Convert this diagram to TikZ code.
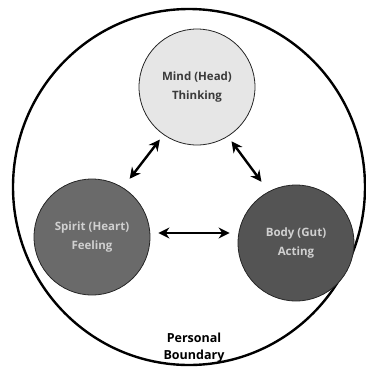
\documentclass[tikz,border=0pt]{standalone}
\usepackage{fontspec}
\setmainfont{Open Sans}
\usetikzlibrary{arrows.meta}
\definecolor{mindfill}{HTML}{E6E6E6}
\definecolor{spiritfill}{HTML}{6A6A6A}
\definecolor{bodyfill}{HTML}{545454}
\definecolor{darktext}{HTML}{3A3A3A}
\definecolor{lighttext}{HTML}{D0D0D0}
\tikzset{
  part/.style={circle, draw=black!85, line width=0.8pt, minimum size=116pt, inner sep=0pt, align=center, font=\bfseries\fontsize{11.5}{19}\selectfont},
  link/.style={{Stealth[length=11pt,width=11pt]}-{Stealth[length=11pt,width=11pt]}, line width=2.4pt},
}
\begin{document}
\begin{tikzpicture}[x=1pt,y=-1pt]
\useasboundingbox (0,0) rectangle (366,368);
\draw[line width=2.4pt] (189,187) ellipse [x radius=176, y radius=178];
\node[part, fill=mindfill, text=darktext] (mind) at (197,87) {Mind (Head)\\Thinking};
\node[part, fill=spiritfill, text=lighttext] (spirit) at (92,237) {Spirit (Heart)\\Feeling};
\node[part, fill=bodyfill, text=lighttext] (body) at (296,243) {Body (Gut)\\Acting};
\draw[link, shorten <=6pt, shorten >=11pt] (mind.-125) -- (spirit.58);
\draw[link, shorten <=6pt, shorten >=12pt] (mind.-58) -- (body.118);
\path (spirit.east) ++(8,-4) coordinate (sa);
\path (body.west) ++(-8,-10) coordinate (ba);
\draw[link] (sa) -- (ba);
\node[font=\bfseries\fontsize{12.5}{17}\selectfont, align=center] (lbl) at (194,348) {Personal\\Boundary};
\end{tikzpicture}
\end{document}
